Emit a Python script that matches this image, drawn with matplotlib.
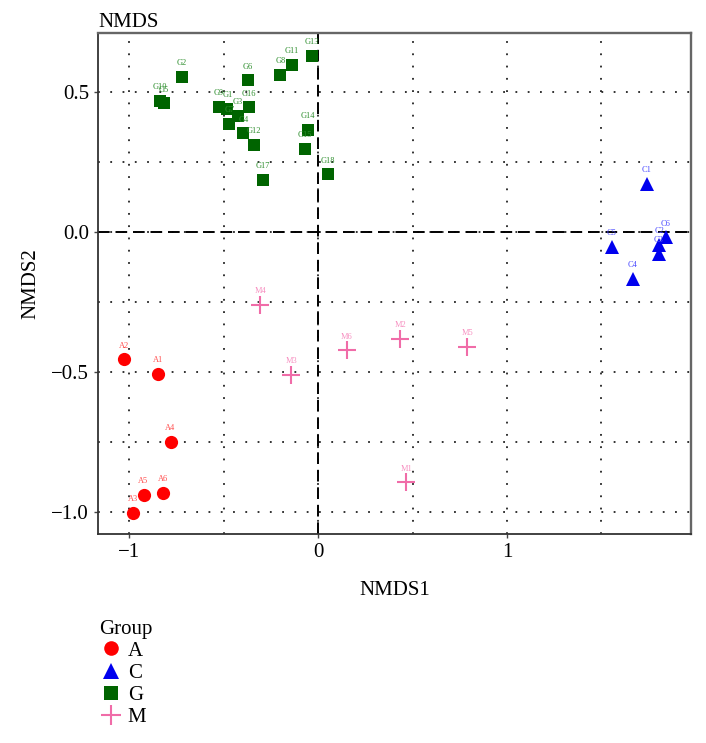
import matplotlib
matplotlib.use("Agg")
import matplotlib.pyplot as plt
from matplotlib.lines import Line2D

plt.rcParams['font.family'] = ['Liberation Serif', 'DejaVu Serif']
plt.rcParams['axes.unicode_minus'] = True

# ---- data ----
A_names = ["A1", "A2", "A3", "A4", "A5", "A6"]
A_x = [-0.847, -1.026, -0.982, -0.781, -0.924, -0.822]
A_y = [-0.509, -0.456, -1.005, -0.750, -0.939, -0.934]

C_names = ["C1", "C2", "C3", "C4", "C5", "C6"]
C_x = [1.739, 1.806, 1.802, 1.665, 1.554, 1.840]
C_y = [0.170, -0.047, -0.080, -0.169, -0.054, -0.020]

G_names = ["G1", "G2", "G3", "G4", "G5", "G6", "G7", "G8", "G9",
           "G10", "G11", "G12", "G13", "G14", "G15", "G16", "G17", "G18"]
G_x = [-0.480, -0.721, -0.425, -0.395, -0.815, -0.372, -0.469, -0.199, -0.525,
       -0.836, -0.139, -0.339, -0.032, -0.053, -0.071, -0.364, -0.292, 0.052]
G_y = [0.439, 0.553, 0.414, 0.351, 0.459, 0.541, 0.386, 0.560, 0.446,
       0.467, 0.597, 0.311, 0.627, 0.363, 0.295, 0.444, 0.186, 0.205]

M_names = ["M1", "M2", "M3", "M4", "M5", "M6"]
M_x = [0.466, 0.436, -0.141, -0.307, 0.790, 0.153]
M_y = [-0.896, -0.383, -0.511, -0.262, -0.411, -0.424]

groups = ["A", "C", "G", "M"]
x_ticks = [-1, 0, 1]
y_ticks = [-1.0, -0.5, 0.0, 0.5]

# ---- styles ----
styles = {
    "A": dict(marker="o", color="#ff0000", lab="#ff4d4d", ms=9.5, mew=0),
    "C": dict(marker="^", color="#0000ee", lab="#4a4aff", ms=10.5, mew=0),
    "G": dict(marker="s", color="#006400", lab="#2f8f2f", ms=8.5, mew=0),
    "M": dict(marker="+", color="#f06ca8", lab="#f78fc0", ms=13, mew=1.5),
}
data = {"A": (A_names, A_x, A_y), "C": (C_names, C_x, C_y),
        "G": (G_names, G_x, G_y), "M": (M_names, M_x, M_y)}

fig = plt.figure(figsize=(7.06, 7.43), dpi=100)
ax = fig.add_axes([0.1388, 0.2813, 0.840, 0.6743])

ax.set_xlim(-1.165, 1.974)
ax.set_ylim(-1.080, 0.710)

ax.set_xticks(x_ticks)
ax.set_xticklabels(["\u22121", "0", "1"])
ax.set_yticks(y_ticks)
ax.set_yticklabels(["\u22121.0", "\u22120.5", "0.0", "0.5"])
ax.set_xticks([-0.5, 0.5, 1.5], minor=True)
ax.set_yticks([-0.75, -0.25, 0.25], minor=True)
ax.tick_params(axis="both", which="major", labelsize=15, length=3, width=1,
               direction="out", color="#444444")
ax.tick_params(axis="both", which="minor", length=0)
ax.grid(True, which="both", color="#222222", linestyle=(0, (1, 5.8)), linewidth=1.3)
ax.set_axisbelow(True)

ax.axhline(0, color="black", linestyle=(0, (6, 3)), linewidth=1.4, zorder=1.5)
ax.axvline(0, color="black", linestyle=(0, (6, 3)), linewidth=1.4, zorder=1.5)

for sp in ["left", "bottom"]:
    ax.spines[sp].set_color("#333333")
    ax.spines[sp].set_linewidth(1.3)
for sp in ["top", "right"]:
    ax.spines[sp].set_color("#666666")
    ax.spines[sp].set_linewidth(1.7)

for g in groups:
    names, xs, ys = data[g]
    st = styles[g]
    ax.plot(xs, ys, linestyle="none", marker=st["marker"], color=st["color"],
            markersize=st["ms"], markeredgewidth=st["mew"], zorder=3)
    for n, xv, yv in zip(names, xs, ys):
        ax.annotate(n, (xv, yv), xytext=(0, 7), textcoords="offset points",
                    ha="center", va="bottom", fontsize=6, color=st["lab"], zorder=4)

ax.set_xlabel("NMDS1", fontsize=15, labelpad=14)
ax.set_ylabel("NMDS2", fontsize=15, labelpad=8)
ax.set_title("NMDS", loc="left", fontsize=15, pad=4)

handles = []
for g in groups:
    st = styles[g]
    handles.append(Line2D([], [], linestyle="none", marker=st["marker"], color=st["color"],
                          markersize=st["ms"] + 1, markeredgewidth=st["mew"]))
leg = fig.legend(handles, groups, title="Group", loc="upper left",
                 bbox_to_anchor=(0.125, 0.18), frameon=False, fontsize=15,
                 title_fontsize=15, handletextpad=0.2, labelspacing=0.12,
                 handlelength=1.2, borderpad=0.0)
leg._legend_box.align = "left"

fig.savefig("out.png", dpi=100)
